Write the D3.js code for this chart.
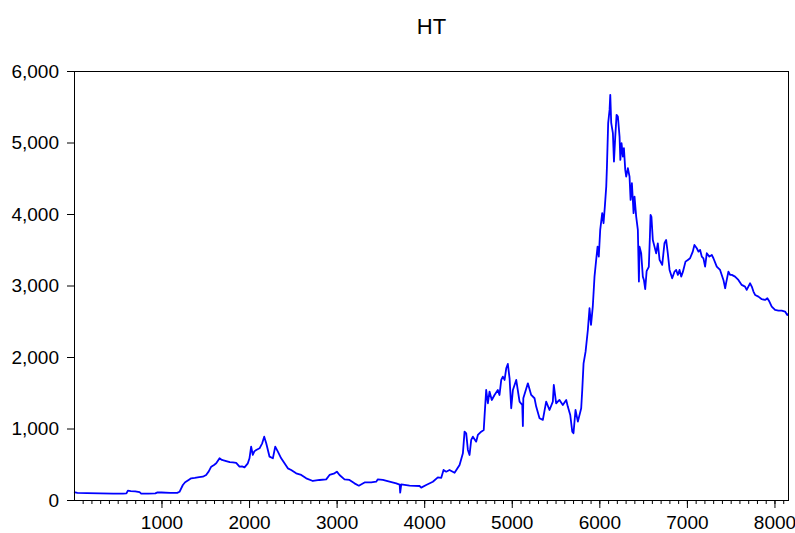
<!DOCTYPE html>
<meta charset="utf-8">
<style>
body { margin: 0; background: #fff; }
svg { display: block; }
.axis text { font: 19px "Liberation Sans", Arial, sans-serif; fill: #000; }
.axis line { stroke: #000; }
.title { font: 22px "Liberation Sans", Arial, sans-serif; }
</style>
<body>
<svg width="795" height="533"></svg>
</body>
<script src="https://cdn.jsdelivr.net/npm/d3@7"></script>
<script>

var obs = [1, 40, 150, 300, 450, 560, 600, 616, 650, 700, 750, 768, 850, 930, 955, 1000, 1100, 1180,
  1206, 1244, 1270, 1310, 1339, 1380, 1430, 1472, 1510, 1540, 1568, 1600, 1625, 1650, 1663, 1690,
  1739, 1780, 1815, 1853, 1891, 1920, 1948, 1986, 2005, 2024, 2043, 2060, 2082, 2120, 2150, 2173,
  2196, 2234, 2272, 2299, 2329, 2367, 2405, 2443, 2481, 2538, 2596, 2653, 2729, 2805, 2881, 2919,
  2976, 3003, 3033, 3090, 3147, 3204, 3254, 3319, 3395, 3452, 3471, 3528, 3604, 3681, 3720, 3726,
  3738, 3833, 3947, 3966, 4023, 4099, 4156, 4195, 4221, 4251, 4289, 4347, 4404, 4442, 4461, 4480,
  4499, 4518, 4537, 4556, 4594, 4613, 4651, 4680, 4689, 4708, 4727, 4746, 4772, 4803, 4841, 4860,
  4880, 4898, 4918, 4937, 4955, 4975, 4994, 5013, 5051, 5089, 5120, 5127, 5132, 5184, 5222, 5260,
  5279, 5317, 5355, 5393, 5431, 5469, 5480, 5507, 5545, 5583, 5622, 5640, 5668, 5691, 5705, 5728,
  5755, 5793, 5805, 5820, 5843, 5869, 5888, 5905, 5925, 5945, 5964, 5980, 5994, 6010, 6033, 6048,
  6063, 6079, 6087, 6101, 6117, 6125, 6136, 6155, 6167, 6182, 6197, 6212, 6231, 6240, 6254, 6269,
  6281, 6296, 6307, 6326, 6345, 6357, 6372, 6391, 6402, 6421, 6440, 6452, 6459, 6478, 6497, 6509,
  6524, 6540, 6565, 6578, 6585, 6595, 6611, 6630, 6649, 6668, 6688, 6718, 6744, 6763, 6782, 6802,
  6832, 6859, 6878, 6897, 6916, 6935, 6954, 6984, 7011, 7036, 7067, 7086, 7113, 7132, 7151, 7170,
  7189, 7208, 7227, 7257, 7284, 7303, 7341, 7379, 7398, 7417, 7437, 7447, 7474, 7493, 7513, 7550,
  7588, 7626, 7664, 7683, 7702, 7722, 7741, 7760, 7779, 7817, 7855, 7893, 7919, 7942, 7969, 8007,
  8045, 8083, 8121, 8146, 8160];

var ht = [110, 100, 95, 92, 88, 88, 92, 130, 125, 122, 110, 90, 88, 92, 107, 105, 100, 100,
  115, 210, 248, 280, 303, 310, 320, 326, 350, 400, 466, 490, 513, 560, 583, 560,
  545, 530, 527, 520, 466, 470, 457, 513, 583, 746, 630, 680, 700, 723, 793, 886,
  793, 606, 583, 746, 676, 583, 513, 443, 420, 373, 350, 303, 266, 280, 289, 350,
  373, 396, 350, 289, 280, 233, 200, 246, 246, 256, 289, 280, 256, 233, 215, 103,
  219, 200, 196, 173, 210, 256, 316, 310, 420, 396, 420, 380, 490, 653, 956, 933,
  700, 630, 840, 886, 816, 910, 956, 979, 1166, 1539, 1353, 1516, 1399, 1469, 1539, 1469,
  1679, 1725, 1679, 1842, 1903, 1702, 1283, 1539, 1679, 1376, 1329, 1035, 1423, 1632, 1469, 1423,
  1306, 1143, 1120, 1376, 1259, 1376, 1609, 1353, 1399, 1329, 1399, 1306, 1189, 956, 933, 1259,
  1096, 1283, 1539, 1912, 2075, 2378, 2682, 2450, 2700, 3124, 3358, 3544, 3404, 3777, 4011, 3871,
  4103, 4383, 4663, 5270, 5456, 5666, 5270, 5130, 4733, 5083, 5386, 5363, 5083, 4757, 4990, 4803,
  4920, 4617, 4523, 4640, 4523, 4197, 4430, 4011, 4243, 3964, 3777, 3055, 3544, 3451, 3124, 3078,
  2948, 3200, 3260, 3700, 3987, 3960, 3637, 3544, 3451, 3590, 3358, 3288, 3591, 3637, 3451, 3218,
  3101, 3195, 3218, 3148, 3218, 3124, 3190, 3334, 3358, 3381, 3474, 3567, 3521, 3474, 3497, 3404,
  3380, 3264, 3451, 3404, 3428, 3381, 3264, 3218, 3148, 3078, 2962, 3030, 3194, 3150, 3148, 3124,
  3078, 3008, 2985, 2938, 2985, 3031, 2985, 2915, 2868, 2845, 2808, 2798, 2822, 2775, 2705, 2658,
  2649, 2649, 2635, 2588, 2600];

var yTicks = [0, 1000, 2000, 3000, 4000, 5000, 6000];
var xTicks = [1000, 2000, 3000, 4000, 5000, 6000, 7000, 8000];
var xMinor = d3.range(100, 8200, 100);

var svg = d3.select("svg");
var margin = {left: 74, right: 6, top: 71, bottom: 33};
var width = 795 - margin.left - margin.right,
    height = 533 - margin.top - margin.bottom;

var x = d3.scaleLinear().domain([1, 8166]).range([0, width]);
var y = d3.scaleLinear().domain([0, 6000]).range([height, 0]);

var g = svg.append("g").attr("transform", `translate(${margin.left},${margin.top})`);

svg.append("text")
    .attr("class", "title")
    .attr("x", margin.left + width / 2)
    .attr("y", 34)
    .attr("text-anchor", "middle")
    .text("HT");

// y axis
g.append("g")
    .attr("class", "axis")
    .call(d3.axisLeft(y).tickValues(yTicks).tickFormat(d3.format(",")).tickSize(7).tickPadding(8))
    .call(a => a.select(".domain").remove());

// x axis minor ticks
g.append("g")
    .attr("class", "axis")
    .attr("transform", `translate(0,${height})`)
    .call(d3.axisBottom(x).tickValues(xMinor).tickFormat("").tickSize(4))
    .call(a => a.select(".domain").remove());

// x axis major ticks with labels
g.append("g")
    .attr("class", "axis")
    .attr("transform", `translate(0,${height})`)
    .call(d3.axisBottom(x).tickValues(xTicks).tickFormat(d3.format("d")).tickSize(8).tickPadding(8))
    .call(a => a.select(".domain").remove());

var line = d3.line()
    .x((d, i) => x(obs[i]))
    .y(d => y(d));

g.append("path")
    .datum(ht)
    .attr("fill", "none")
    .attr("stroke", "#0000ff")
    .attr("stroke-width", 1.8)
    .attr("stroke-linejoin", "round")
    .attr("d", line);

g.append("rect")
    .attr("x", 0.5)
    .attr("y", 0.5)
    .attr("width", width - 1)
    .attr("height", height)
    .attr("fill", "none")
    .attr("stroke", "#000")
    .attr("stroke-width", 1);

</script>
